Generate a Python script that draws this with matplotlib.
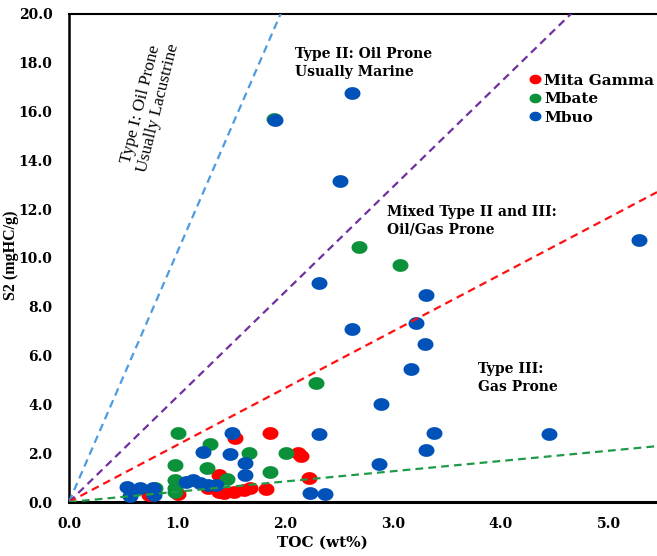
import numpy as np
import matplotlib
matplotlib.use("Agg")
import matplotlib.pyplot as plt
from matplotlib.path import Path

# ---- sample data: TOC (wt%) vs S2 (mgHC/g) ----
mita_toc = [1.54, 1.86, 2.12, 2.15, 1.39, 2.22, 1.01, 1.39, 1.53, 1.62, 1.68, 1.83, 1.29, 1.44, 0.74]
mita_s2 = [2.62, 2.83, 2.02, 1.88, 1.11, 0.98, 0.33, 0.41, 0.41, 0.49, 0.57, 0.53, 0.57, 0.37, 0.29]

mbate_toc = [1.90, 2.69, 3.07, 2.29, 1.01, 1.31, 1.67, 2.01, 0.98, 1.28, 1.86, 1.46, 0.98, 0.98, 0.98, 0.80]
mbate_s2 = [15.71, 10.45, 9.71, 4.88, 2.83, 2.38, 2.00, 2.00, 1.52, 1.39, 1.23, 0.94, 0.90, 0.57, 0.41, 0.57]

mbuo_toc = [2.62, 1.91, 2.51, 2.32, 3.31, 2.62, 3.22, 3.30, 3.17, 2.89, 3.38, 3.31, 2.32, 2.87,
            4.45, 5.28, 1.51, 1.24, 1.49, 1.63, 1.63, 1.08, 1.15, 1.21, 1.29, 1.36, 2.23, 2.37,
            0.54, 0.57, 0.66, 0.78, 0.79]
mbuo_s2 = [16.76, 15.66, 13.16, 8.98, 8.48, 7.09, 7.34, 6.48, 5.45, 4.02, 2.83, 2.13, 2.79, 1.56,
           2.79, 10.74, 2.83, 2.05, 1.97, 1.60, 1.11, 0.82, 0.90, 0.78, 0.70, 0.70, 0.37, 0.33,
           0.61, 0.25, 0.57, 0.57, 0.29]

# kerogen-type boundary lines through the origin (S2 / TOC slopes)
boundary_slopes = [10.2, 4.3, 2.33, 0.42]
boundary_colors = ["#4d9be0", "#7030a0", "#ff1010", "#1f9a48"]

x_ticks = [0.0, 1.0, 2.0, 3.0, 4.0, 5.0]
y_ticks = [0.0, 2.0, 4.0, 6.0, 8.0, 10.0, 12.0, 14.0, 16.0, 18.0, 20.0]

series = [
    ("Mita Gamma", mita_toc, mita_s2, "#ff0000"),
    ("Mbate", mbate_toc, mbate_s2, "#0a9139"),
    ("Mbuo", mbuo_toc, mbuo_s2, "#0052b8"),
]

# slightly wide elliptical marker
t = np.linspace(0, 2 * np.pi, 64)
ellipse = Path(np.column_stack([1.25 * np.cos(t), np.sin(t)]), closed=True)

fig = plt.figure(figsize=(6.57, 5.56), dpi=100)
ax = fig.add_axes([69 / 657, 54 / 556, 1 - 69 / 657, 488 / 556])

XMAX, YMAX = 5.45, 20.0
ax.set_xlim(0, XMAX)
ax.set_ylim(0, YMAX)

handles = []
for name, xs, ys, col in series:
    h, = ax.plot(xs, ys, linestyle="none", marker=ellipse, ms=11.5,
                 mfc=col, mec="none", zorder=3, label=name)
    handles.append(h)

xx = np.array([0.0, XMAX])
for k, col in zip(boundary_slopes, boundary_colors):
    ax.plot(xx, k * xx, color=col, lw=1.6, linestyle=(0, (3.5, 2.3)),
            zorder=4, clip_on=True)

tick_font = dict(family="DejaVu Serif", weight="bold", size=10)
ax.set_xticks(x_ticks)
ax.set_yticks(y_ticks)
ax.set_xticklabels([f"{v:.1f}" for v in x_ticks], **tick_font)
ax.set_yticklabels([f"{v:.1f}" for v in y_ticks], **tick_font)
ax.tick_params(axis="both", length=0)
ax.tick_params(axis="x", pad=11)
ax.tick_params(axis="y", pad=12)

ax.spines["right"].set_visible(False)
ax.spines["left"].set_linewidth(1.8)
ax.spines["bottom"].set_linewidth(2.2)
ax.spines["top"].set_linewidth(1.5)

fig.text(322 / 657, 1 - 543 / 556, "TOC (wt%)", ha="center", va="center",
         family="DejaVu Serif", weight="bold", size=11)
fig.text(11 / 657, 1 - 255 / 556, "S2 (mgHC/g)", ha="center", va="center",
         rotation=90, family="Liberation Serif", weight="bold", size=11.5)

label_font = dict(family="DejaVu Serif", weight="bold", size=10, linespacing=1.35)
fig.text(150 / 657, 1 - 106 / 556, "Type I: Oil Prone\nUsually Lacustrine",
         ha="center", va="center", rotation=76, rotation_mode="anchor",
         family="Liberation Serif", size=12.5, linespacing=1.15)
fig.text(295 / 657, 1 - 63 / 556, "Type II: Oil Prone\nUsually Marine",
         ha="left", va="center", **label_font)
fig.text(387 / 657, 1 - 221 / 556, "Mixed Type II and III:\nOil/Gas Prone",
         ha="left", va="center", **label_font)
fig.text(478 / 657, 1 - 378 / 556, "Type III:\nGas Prone",
         ha="left", va="center", **label_font)

leg = fig.legend(handles=handles, loc="upper left",
                 bbox_to_anchor=(522 / 657, 1 - 66 / 556),
                 frameon=False, markerscale=0.75, handlelength=0.7,
                 handletextpad=0.25, labelspacing=0.3, borderpad=0,
                 prop=dict(family="DejaVu Serif", weight="bold", size=11))

fig.savefig("out.png", dpi=100, facecolor="white")
